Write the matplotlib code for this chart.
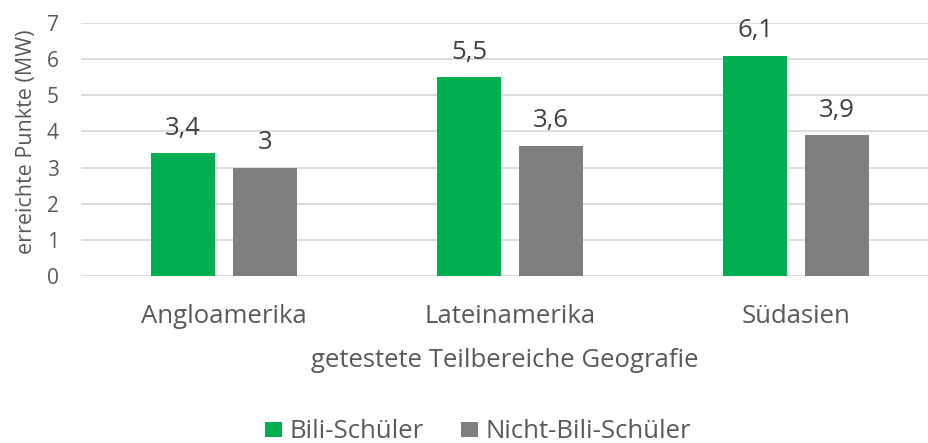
import matplotlib.pyplot as plt
import numpy as np

regions = ['Angloamerika', 'Lateinamerika', 'Südasien']
bili = [3.4, 5.5, 6.1]
nicht_bili = [3.0, 3.6, 3.9]
series_names = ['Bili-Schüler', 'Nicht-Bili-Schüler']

plt.rcParams['font.family'] = ['Open Sans', 'DejaVu Sans']

fig = plt.figure(figsize=(9.29, 4.43), dpi=100)
ax = fig.add_axes([81 / 929, (443 - 276) / 443, (929 - 81) / 929, (276 - 23) / 443])

x = np.arange(len(regions))
w = 0.224
off = 0.143
b1 = ax.bar(x - off, bili, w, color='#00B050', label=series_names[0], zorder=3)
b2 = ax.bar(x + off, nicht_bili, w, color='#7F7F7F', label=series_names[1], zorder=3)

def fmt(v):
    return f'{v:g}'.replace('.', ',')

for bars in (b1, b2):
    ax.bar_label(bars, labels=[fmt(v) for v in bars.datavalues], padding=9,
                 fontsize=18.5, color='#404040')

ax.set_xlim(-0.5, -0.5 + 848 / 286)
ax.set_ylim(0, 7)
ax.set_yticks(range(0, 8))
ax.set_xticks(x)
ax.set_xticklabels(regions)
ax.grid(axis='y', color='#D9D9D9', linewidth=1.3, zorder=0)
for s in ax.spines.values():
    s.set_visible(False)
ax.tick_params(axis='both', length=0, labelcolor='#595959')
ax.tick_params(axis='x', pad=20, labelsize=18.5)
ax.tick_params(axis='y', pad=16, labelsize=15)

ax.set_xlabel('getestete Teilbereiche Geografie', fontsize=18.5, color='#595959', labelpad=14)
ax.set_ylabel('erreichte Punkte (MW)', fontsize=15.5, color='#595959')
ax.yaxis.set_label_coords(-0.052, 0.53)

fig.legend(loc='center left', bbox_to_anchor=(265 / 929, 11 / 443), ncol=2, frameon=False,
           fontsize=18.5, labelcolor='#595959', handlelength=0.66, handleheight=0.53,
           handletextpad=0.3, columnspacing=1.45, borderpad=0, borderaxespad=0)

fig.savefig('out.png', dpi=100)
